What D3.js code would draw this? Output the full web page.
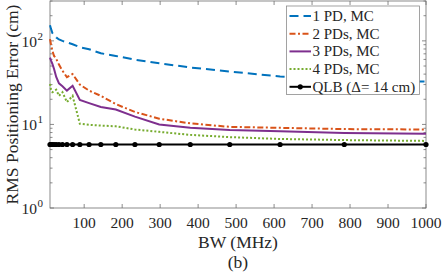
<!DOCTYPE html>
<html>
<head>
<meta charset="utf-8">
<script src="https://cdn.jsdelivr.net/npm/d3@7"></script>
<style>
  body { margin: 0; background: #fff; }
</style>
</head>
<body>
<svg id="chart" width="443" height="274"></svg>
<script>
// bandwidth samples (MHz), logspace(1, 3, 20)
var bw = [10, 12.74, 16.24, 20.69, 26.37, 33.6, 42.81, 54.56, 69.52, 88.59,
          112.9, 143.8, 183.3, 233.6, 297.6, 379.3, 483.3, 615.8, 784.8, 1000];

var pd1 = [154, 139, 124, 117, 110, 104, 100, 96, 91, 84, 79.5, 71, 66, 59.5, 54, 48, 43, 37.5, 34.3, 32.5];
var pd2 = [105, 90, 76, 66, 61, 52, 44, 36.7, 40, 30, 25.4, 22, 17.5, 14.1, 11.7, 10.3, 9.35, 9.1, 8.8, 8.7];
var pd3 = [63, 58, 53, 46, 37, 31, 28.7, 25.4, 29, 19.6, 18, 16.2, 15.1, 12.4, 10, 9.1, 8.6, 8.3, 7.9, 7.75];
var pd4 = [30.5, 26, 24.3, 25, 26, 22, 24.3, 18.5, 22, 10.2, 9.9, 9.7, 9.5, 8.7, 8.15, 7.5, 7.05, 6.7, 6.5, 6.35];
var qlb = [5.75, 5.75, 5.75, 5.75, 5.75, 5.75, 5.75, 5.75, 5.75, 5.75, 5.75, 5.75, 5.75, 5.75, 5.75, 5.75, 5.75, 5.75, 5.75, 5.75];

var xTicks = [100, 200, 300, 400, 500, 600, 700, 800, 900, 1000];
var yMajor = [1, 10, 100];
var yExp = ["0", "1", "2"];
var names = ["1 PD, MC", "2 PDs, MC", "3 PDs, MC", "4 PDs, MC", "QLB (\u0394= 14 cm)"];

var series = [
  {name: names[0], values: pd1, color: "#0072BD", dash: "9,5"},
  {name: names[1], values: pd2, color: "#D95319", dash: "6,2.5,2,2.5"},
  {name: names[2], values: pd3, color: "#7E2F8E", dash: null},
  {name: names[3], values: pd4, color: "#77AC30", dash: "2,2"},
  {name: names[4], values: qlb, color: "#000000", dash: null, marker: true}
];

var FONT = "'Liberation Serif', Tinos, 'Times New Roman', 'DejaVu Serif', serif";

var svg = d3.select("#chart"),
    margin = {top: 1, right: 17, bottom: 66, left: 50},
    width = +svg.attr("width") - margin.left - margin.right,
    height = +svg.attr("height") - margin.top - margin.bottom;

var x = d3.scaleLinear().domain([10, 1000]).range([margin.left, margin.left + width]);
var y = d3.scaleLog().domain([1, 300]).range([margin.top + height, margin.top]);

var axisColor = "#6e6e6e", textColor = "#262626";
var x0 = x.range()[0], x1 = x.range()[1], y0 = y.range()[0], y1 = y.range()[1];

function label(g, px, py, str, size) {
  return g.append("text")
    .attr("x", px).attr("y", py)
    .attr("font-family", FONT)
    .attr("font-size", size)
    .attr("fill", textColor)
    .text(str);
}

// minor y ticks
var minor = [];
[1, 10, 100].forEach(function (d) {
  for (var k = 2; k <= 9; k++) if (d * k <= 300) minor.push(d * k);
});

var ticks = svg.append("g").attr("stroke", axisColor).attr("stroke-width", 0.8);
xTicks.forEach(function (t) {
  ticks.append("line").attr("x1", x(t)).attr("x2", x(t)).attr("y1", y0).attr("y2", y0 - 4);
  ticks.append("line").attr("x1", x(t)).attr("x2", x(t)).attr("y1", y1).attr("y2", y1 + 4);
});
yMajor.forEach(function (t) {
  ticks.append("line").attr("x1", x0).attr("x2", x0 + 4).attr("y1", y(t)).attr("y2", y(t));
  ticks.append("line").attr("x1", x1).attr("x2", x1 - 4).attr("y1", y(t)).attr("y2", y(t));
});
minor.forEach(function (t) {
  ticks.append("line").attr("x1", x0).attr("x2", x0 + 2.5).attr("y1", y(t)).attr("y2", y(t));
  ticks.append("line").attr("x1", x1).attr("x2", x1 - 2.5).attr("y1", y(t)).attr("y2", y(t));
});

// frame
svg.append("rect")
  .attr("x", x0).attr("y", y1)
  .attr("width", x1 - x0).attr("height", y0 - y1)
  .attr("fill", "none").attr("stroke", axisColor).attr("stroke-width", 0.8);

// tick labels
var xl = svg.append("g").attr("text-anchor", "middle");
xTicks.forEach(function (t) { label(xl, x(t), 228, t, 15.5); });

var yl = svg.append("g");
yMajor.forEach(function (t, i) {
  label(yl, 37, y(t) + 6, "10", 15.5).attr("text-anchor", "end");
  label(yl, 37.5, y(t) - 1, yExp[i], 11);
});

// axis titles
label(svg, (x0 + x1) / 2, 248, "BW (MHz)", 17.5).attr("text-anchor", "middle");
label(svg, (x0 + x1) / 2, 268, "(b)", 17.5).attr("text-anchor", "middle");
label(svg, 0, 0, "RMS Positioning Error (cm)", 17.5)
  .attr("text-anchor", "middle")
  .attr("transform", "translate(18," + ((y0 + y1) / 2) + ") rotate(-90)");

// lines
var plot = svg.append("g");
var line = d3.line()
  .x(function (d, i) { return x(bw[i]); })
  .y(function (d) { return y(d); });

series.slice().reverse().forEach(function (s) {
  plot.append("path")
    .attr("d", line(s.values))
    .attr("fill", "none")
    .attr("stroke", s.color)
    .attr("stroke-width", 2)
    .attr("stroke-dasharray", s.dash);
  if (s.marker) {
    plot.selectAll(".dot")
      .data(s.values).enter().append("circle")
      .attr("cx", function (d, i) { return x(bw[i]); })
      .attr("cy", function (d) { return y(d); })
      .attr("r", 2.6)
      .attr("fill", s.color);
  }
});

// legend
var lg = svg.append("g");
lg.append("rect")
  .attr("x", 286.5).attr("y", 6)
  .attr("width", 133).attr("height", 88.5)
  .attr("fill", "#fff").attr("stroke", "#8c8c8c").attr("stroke-width", 0.8);
series.forEach(function (s, i) {
  var cy = 16 + i * 17.7;
  lg.append("line")
    .attr("x1", 289.5).attr("x2", 311).attr("y1", cy).attr("y2", cy)
    .attr("stroke", s.color).attr("stroke-width", 2)
    .attr("stroke-dasharray", s.dash);
  if (s.marker) {
    lg.append("circle").attr("cx", 300.25).attr("cy", cy).attr("r", 2.6).attr("fill", s.color);
  }
  label(lg, 312.5, cy + 5, s.name, 15);
});
</script>
</body>
</html>
